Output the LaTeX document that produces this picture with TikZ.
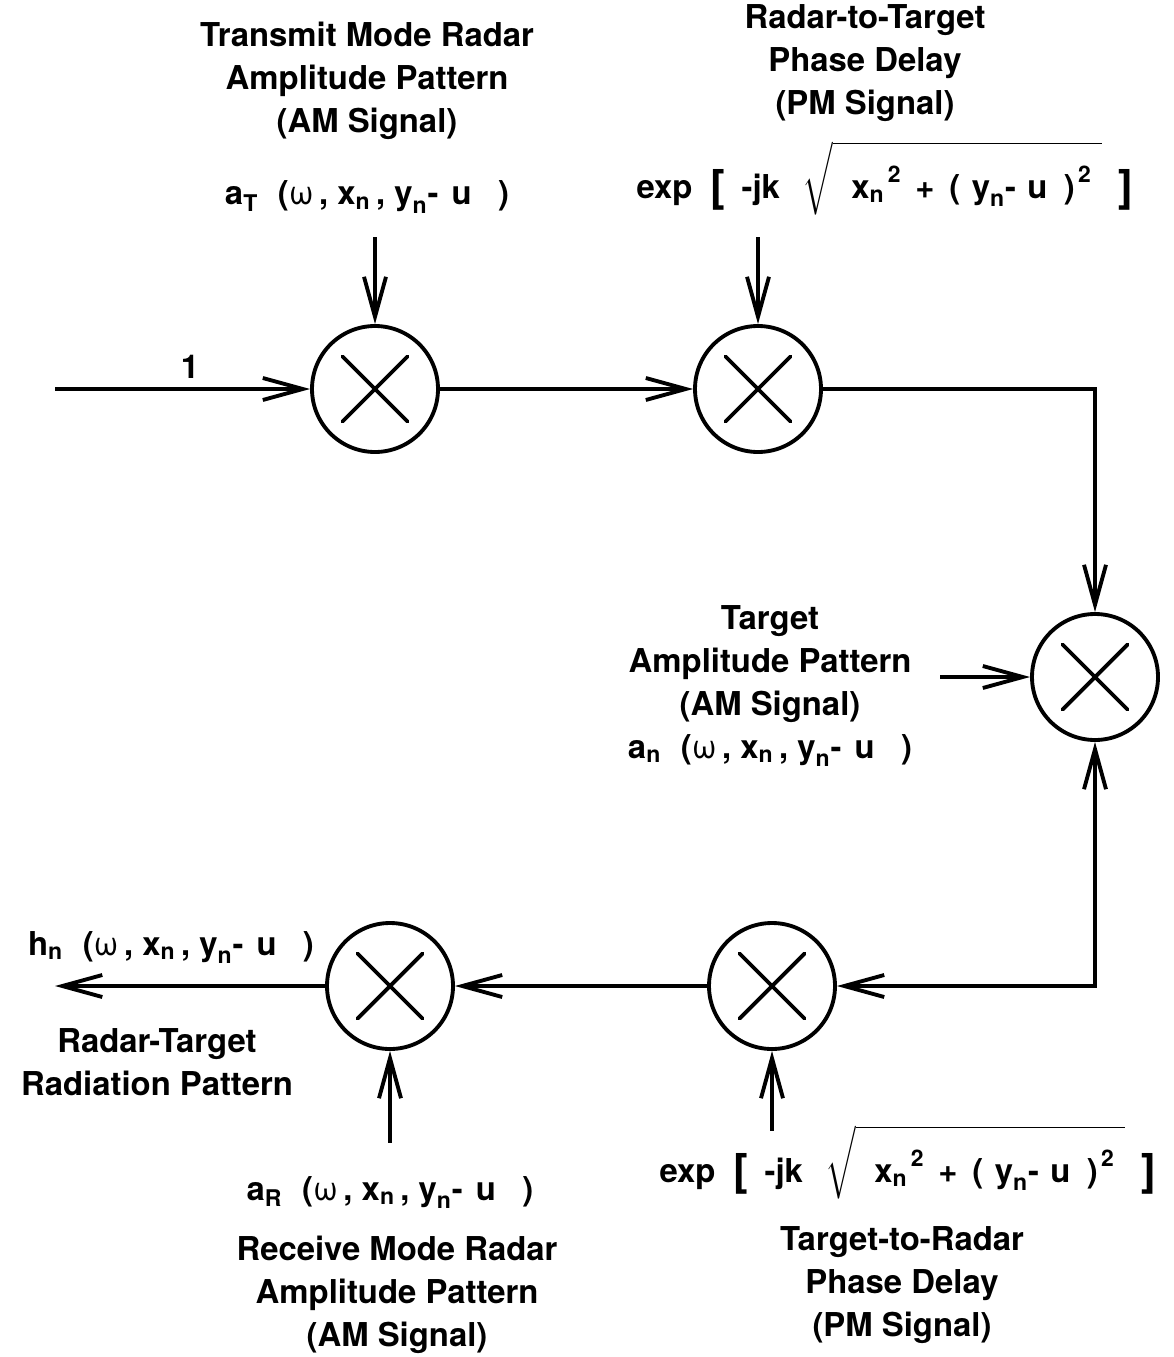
\documentclass[tikz,border=0pt]{standalone}
\usepackage{amsmath}
\usepackage{fontspec}
\setmainfont{TeX Gyre Heros}
\usetikzlibrary{arrows.meta,positioning}
\newcommand{\sx}[2]{\ensuremath{\text{#1}_{\text{#2}}}}
\newcommand{\om}{{\mdseries ω}}
\newcommand{\sqd}{\raisebox{9pt}{\fontsize{13}{13}\selectfont 2}}
\newcommand{\bigbr}[1]{{\fontsize{25}{25}\selectfont\raisebox{-2pt}{#1}}}
\newcommand{\pos}{\hspace{0.6em}(\om\,, \sx{x}{n}\,, \sx{y}{n}-\hspace{0.4em}u\hspace{0.8em})}
\newcommand{\expterm}{exp\hspace{0.55em}\bigbr{[}\hspace{0.5em}-jk\hspace{0.7em}\ensuremath{\smash{\sqrt{\rule[-6pt]{0pt}{32pt}\hspace{0.55em}\text{\sx{x}{n}\hspace{0.1em}\sqd\hspace{0.45em}+\hspace{0.45em}(\hspace{0.35em}\sx{y}{n}-\hspace{0.35em}u\hspace{0.5em})\hspace{0.1em}\sqd}\hspace{0.35em}}}}\hspace{0.5em}\bigbr{]}}

\begin{document}
\begin{tikzpicture}[font=\fontsize{18.7}{24.4}\selectfont\bfseries, >={Straight Barb[length=8mm,width=4.4mm]}, mixer/.style={circle, draw, line width=2.2pt, minimum size=2.52cm, path picture={\draw[line width=2.2pt, line cap=round] ([shift={(-0.65,-0.65)}]path picture bounding box.center) -- ([shift={(0.65,0.65)}]path picture bounding box.center) ([shift={(-0.65,0.65)}]path picture bounding box.center) -- ([shift={(0.65,-0.65)}]path picture bounding box.center);}}, lbl/.style={align=center, inner sep=1pt}, formula/.style={anchor=base, inner sep=0pt}, arrow/.style={->, line width=2.2pt}]
\useasboundingbox (0,0) rectangle (23.48,-27.14);
\node[mixer] (m1) at (7.50,-7.78) {};
\node[mixer] (m2) at (15.16,-7.78) {};
\node[mixer] (m3) at (21.90,-13.54) {};
\node[mixer] (m4) at (15.44,-19.72) {};
\node[mixer] (m5) at (7.80,-19.72) {};
\coordinate (in) at (1.1,-7.78);
\coordinate (out) at (1.1,-19.72);
\coordinate[above=1.74cm of m1] (t1);
\coordinate[above=1.74cm of m2] (t2);
\coordinate[left=1.8cm of m3] (t3);
\coordinate[below=1.6cm of m4] (t4);
\coordinate[below=1.84cm of m5] (t5);
\node (one) at (3.8,-7.34) {1};
\node[lbl] (txm) at (7.34,-1.62) {Transmit Mode Radar\\Amplitude Pattern\\(AM Signal)};
\node[formula] (at) at (7.34,-4.1) {\sx{a}{T}\pos};
\node[lbl] (rtt) at (17.30,-1.26) {Radar-to-Target\\Phase Delay\\(PM Signal)};
\node[formula] (ex1) at (17.70,-3.96) {\expterm};
\node[lbl] (tgt) at (15.40,-13.72) {Target\\Amplitude Pattern\\(AM Signal)\\\sx{a}{n}\pos};
\node[formula] (hn) at (3.42,-19.1) {\sx{h}{n}\pos};
\node[lbl] (rtp) at (3.14,-21.24) {Radar-Target\\Radiation Pattern};
\node[formula] (ar) at (7.80,-24.0) {\sx{a}{R}\pos};
\node[lbl] (rxm) at (7.94,-25.9) {Receive Mode Radar\\Amplitude Pattern\\(AM Signal)};
\node[formula] (ex2) at (18.16,-23.64) {\expterm};
\node[lbl] (ttr) at (18.04,-25.7) {Target-to-Radar\\Phase Delay\\(PM Signal)};
\draw[arrow] (in) -- (m1); \draw[arrow] (m1) -- (m2); \draw[arrow] (m2) -| (m3); \draw[arrow] (t1) -- (m1); \draw[arrow] (t2) -- (m2); \draw[arrow] (t3) -- (m3); \draw[arrow, <->] (m3) |- (m4); \draw[arrow] (m4) -- (m5); \draw[arrow] (m5) -- (out); \draw[arrow] (t4) -- (m4); \draw[arrow] (t5) -- (m5);
\end{tikzpicture}
\end{document}
